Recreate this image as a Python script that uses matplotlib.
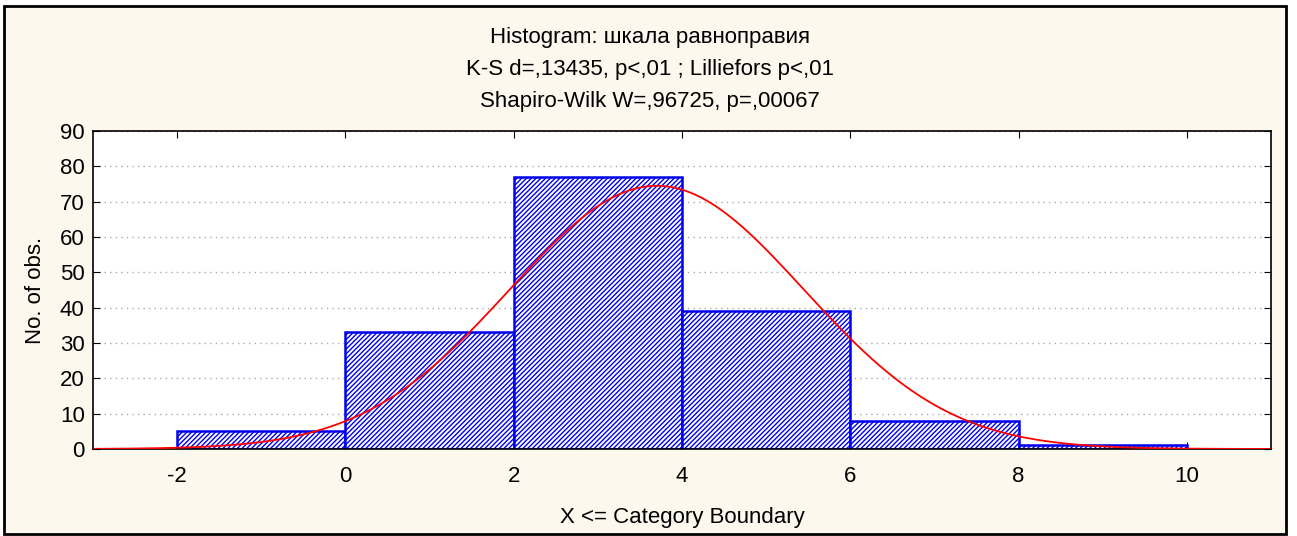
import numpy as np
import matplotlib.pyplot as plt
from matplotlib.patches import Rectangle

# histogram data
bin_edges = [-2, 0, 2, 4, 6, 8, 10]
counts = [5, 33, 77, 39, 8, 1]
x_ticks = [-2, 0, 2, 4, 6, 8, 10]
y_ticks = [0, 10, 20, 30, 40, 50, 60, 70, 80, 90]

# fitted normal curve parameters (estimated from the red line)
fit_mean = 3.7
fit_sd = 1.746

title_lines = [
    "Histogram: шкала равноправия",
    "K-S d=,13435, p<,01 ; Lilliefors p<,01",
    "Shapiro-Wilk W=,96725, p=,00067",
]

plt.rcParams['font.family'] = ['Liberation Sans', 'DejaVu Sans']
plt.rcParams['axes.unicode_minus'] = False
plt.rcParams['hatch.linewidth'] = 1.0
plt.rcParams['hatch.color'] = '#6a6aff'

bg = '#fdf8ee'
fs = 16
fig = plt.figure(figsize=(12.97, 5.36), dpi=100, facecolor='white')

# outer frame of the graph window
fig.patches.append(Rectangle((4 / 1297, 2 / 536), 1282 / 1297, 528 / 536,
                             transform=fig.transFigure, facecolor=bg,
                             edgecolor='black', linewidth=2, zorder=-10))

ax = fig.add_axes([93 / 1297, 1 - 449 / 536, (1271 - 93) / 1297, (449 - 131) / 536])
ax.set_facecolor('white')

widths = np.diff(bin_edges)
ax.bar(bin_edges[:-1], counts, width=widths, align='edge', facecolor='white',
       edgecolor='#0000ee', hatch='///////', linewidth=1.8, zorder=2)

n_total = sum(counts)
bw = widths[0]
xs = np.linspace(-3, 11, 400)
ys = n_total * bw * np.exp(-0.5 * ((xs - fit_mean) / fit_sd) ** 2) / (fit_sd * np.sqrt(2 * np.pi))
ax.plot(xs, ys, color='#ff0000', linewidth=1.3, zorder=3)

ax.set_xlim(-3, 11)
ax.set_ylim(0, 90)
ax.set_xticks(x_ticks)
ax.set_yticks(y_ticks)
ax.tick_params(direction='in', length=5, labelsize=fs, top=True, right=True,
               pad=6)
ax.tick_params(axis='x', pad=12)
ax.yaxis.grid(True, linestyle=(0, (1, 3)), color='#aaaaaa', linewidth=1)
ax.set_axisbelow(True)
for s in ax.spines.values():
    s.set_linewidth(1.2)

ax.set_xlabel("X <= Category Boundary", fontsize=fs, labelpad=15)
ax.set_ylabel("No. of obs.", fontsize=fs, labelpad=10)

for i, line in enumerate(title_lines):
    fig.text(650 / 1297, 1 - (38 + i * 31.5) / 536, line, ha='center',
             va='center', fontsize=fs)

fig.savefig('out.png', dpi=100, facecolor='white')
